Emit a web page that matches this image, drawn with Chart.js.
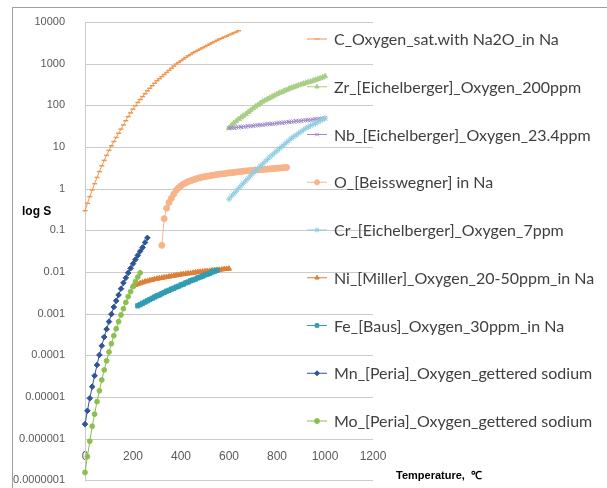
<!DOCTYPE html>
<html>
<head>
<meta charset="utf-8">
<script src="https://cdn.jsdelivr.net/npm/chart.js@4.4.1/dist/chart.umd.min.js"></script>
<style>
  html, body { margin: 0; padding: 0; background: #fff; overflow: hidden; }
  /* a bit taller than the window: the axis label padding eats ~11px at the bottom */
  #wrap { position: relative; width: 607px; height: 499px; }
</style>
</head>
<body>
<div id="wrap"><canvas id="solChart"></canvas></div>
<script>
// temperatures (°C) shared by all series, 10° steps as in the sheet
const temps = [0,10,20,30,40,50,60,70,80,90,100,110,120,130,140,150,160,170,180,190,
  200,210,220,230,240,250,260,270,280,290,300,310,320,330,340,350,360,370,380,390,
  400,410,420,430,440,450,460,470,480,490,500,510,520,530,540,550,560,570,580,590,
  600,610,620,630,640,650,660,670,680,690,700,710,720,730,740,750,760,770,780,790,
  800,810,820,830,840,850,860,870,880,890,900,910,920,930,940,950,960,970,980,990,1000];

const seriesNames = [
  'C_Oxygen_sat.with Na2O_in Na',
  'Zr_[Eichelberger]_Oxygen_200ppm',
  'Nb_[Eichelberger]_Oxygen_23.4ppm',
  'O_[Beisswegner] in Na',
  'Cr_[Eichelberger]_Oxygen_7ppm',
  'Ni_[Miller]_Oxygen_20-50ppm_in Na',
  'Fe_[Baus]_Oxygen_30ppm_in Na',
  'Mn_[Peria]_Oxygen_gettered sodium',
  'Mo_[Peria]_Oxygen_gettered sodium'
];

// first temperature of each series
const seriesStart = [0, 600, 600, 320, 600, 200, 220, 0, 0];

// log10(S)
const cLogS = [-0.53,-0.35,-0.19,-0.03,0.12,0.27,0.41,0.55,0.68,0.80,
  0.92,1.03,1.13,1.23,1.33,1.43,1.53,1.63,1.73,1.82,
  1.91,1.99,2.07,2.14,2.21,2.28,2.35,2.41,2.47,2.53,
  2.59,2.64,2.69,2.74,2.79,2.84,2.89,2.94,2.99,3.03,
  3.07,3.11,3.15,3.19,3.22,3.26,3.29,3.32,3.35,3.38,
  3.41,3.44,3.47,3.50,3.53,3.56,3.59,3.61,3.64,3.66,
  3.69,3.71,3.74,3.76,3.79];
const zrLogS = [1.46,1.52,1.57,1.62,1.67,1.71,1.75,1.79,1.84,1.88,
  1.93,1.97,2.01,2.05,2.09,2.12,2.15,2.18,2.21,2.24,
  2.27,2.30,2.32,2.35,2.37,2.40,2.42,2.44,2.46,2.48,
  2.50,2.52,2.54,2.555,2.57,2.59,2.61,2.63,2.65,2.67,2.70];
const nbLogS = [1.45,1.46,1.46,1.47,1.47,1.48,1.49,1.49,1.50,1.50,
  1.51,1.52,1.52,1.53,1.53,1.54,1.55,1.55,1.56,1.56,
  1.57,1.58,1.58,1.59,1.59,1.60,1.61,1.61,1.62,1.62,
  1.63,1.64,1.64,1.65,1.65,1.66,1.67,1.67,1.68,1.68,1.69];
const oLogS = [-1.36,-0.72,-0.47,-0.33,-0.23,-0.13,-0.04,0.02,0.07,0.11,
  0.14,0.17,0.19,0.21,0.23,0.25,0.265,0.28,0.29,0.30,
  0.31,0.32,0.33,0.34,0.35,0.355,0.36,0.37,0.38,0.385,
  0.39,0.40,0.405,0.41,0.42,0.425,0.43,0.435,0.44,0.445,
  0.45,0.455,0.46,0.465,0.47,0.475,0.48,0.485,0.49,0.495,
  0.50,0.505,0.51];
const crLogS = [-0.25,-0.18,-0.12,-0.06,0.01,0.07,0.13,0.19,0.25,0.31,
  0.37,0.43,0.48,0.54,0.59,0.65,0.70,0.76,0.81,0.86,
  0.91,0.96,1.01,1.06,1.11,1.16,1.21,1.25,1.29,1.33,
  1.37,1.41,1.45,1.48,1.51,1.54,1.57,1.60,1.63,1.66,1.69];
const niLogS = [-2.34,-2.31,-2.29,-2.27,-2.25,-2.23,-2.22,-2.20,-2.19,-2.17,
  -2.16,-2.15,-2.14,-2.13,-2.12,-2.11,-2.10,-2.09,-2.08,-2.07,
  -2.06,-2.05,-2.04,-2.035,-2.03,-2.02,-2.01,-2.00,-1.995,-1.99,
  -1.98,-1.975,-1.97,-1.96,-1.955,-1.95,-1.945,-1.94,-1.93,-1.925,-1.92];
const feLogS = [-2.81,-2.78,-2.75,-2.72,-2.69,-2.66,-2.63,-2.60,-2.57,-2.55,
  -2.52,-2.49,-2.46,-2.44,-2.41,-2.39,-2.36,-2.34,-2.31,-2.29,
  -2.26,-2.24,-2.21,-2.19,-2.17,-2.14,-2.12,-2.10,-2.07,-2.05,
  -2.03,-2.00,-1.98,-1.96];
const mnLogS = [-5.65,-5.33,-5.03,-4.75,-4.49,-4.23,-3.99,-3.77,-3.56,-3.37,
  -3.19,-3.01,-2.84,-2.69,-2.55,-2.40,-2.26,-2.14,-2.02,-1.91,
  -1.80,-1.70,-1.60,-1.50,-1.41,-1.29,-1.18];
const moLogS = [-6.81,-6.43,-6.06,-5.70,-5.41,-5.11,-4.85,-4.59,-4.35,-4.13,
  -3.92,-3.72,-3.53,-3.36,-3.19,-3.03,-2.88,-2.73,-2.59,-2.47,
  -2.35,-2.23,-2.12,-2.02];

const seriesLogS = [cLogS, zrLogS, nbLogS, oLogS, crLogS, niLogS, feLogS, mnLogS, moLogS];

const yTickValues = [1e-7,1e-6,1e-5,1e-4,1e-3,1e-2,1e-1,1,10,100,1000,10000];
const yTickLabels = ['0.0000001','0.000001','0.00001','0.0001','0.001','0.01','0.1','1','10','100','1000','10000'];
const xTickLabels = ['0','200','400','600','800','1000','1200'];

// styles
const colors = ['#F09650','#A9CF86','#9E8BC9','#F7B48A','#92CDE0','#DE7F38','#2F9DB3','#2F5597','#8CBF4F'];
const pointStyles = ['line','triangle','crossRot','circle','star','triangle','rect','rectRot','circle'];
const pointSizes = [2.5, 3, 3, 3, 3, 3, 3, 2.8, 2.4];

function toPoints(start, logs) {
  const i0 = temps.indexOf(start);
  return logs.map((v, i) => ({ x: temps[i0 + i], y: Math.pow(10, v) }));
}

const datasets = seriesNames.map((name, i) => ({
  label: name,
  data: toPoints(seriesStart[i], seriesLogS[i]),
  borderColor: colors[i],
  backgroundColor: colors[i],
  borderWidth: 1,
  pointStyle: pointStyles[i],
  pointRadius: pointSizes[i],
  pointBorderWidth: i === 0 ? 1.5 : 1,
  showLine: true,
  tension: 0,
  clip: false,
  order: -i
}));

const LEGEND_X = 307, LEGEND_Y = 39, LEGEND_STEP = 47.75;
const GRID = '#cbcbcb';

const decorPlugin = {
  id: 'decor',
  beforeDatasetsDraw(chart) {
    // horizontal grid + vertical axis line, Excel style, under the data
    const ctx = chart.ctx, area = chart.chartArea, ys = chart.scales.y;
    ctx.save();
    ctx.fillStyle = GRID;
    yTickValues.forEach(v => {
      const py = Math.round(ys.getPixelForValue(v));
      ctx.fillRect(area.left, py, area.right - area.left, 1);
    });
    ctx.fillRect(Math.round(area.left), area.top, 1, area.bottom - area.top + 1);
    ctx.restore();
  },
  afterDraw(chart) {
    const ctx = chart.ctx;
    ctx.save();
    // outer frame
    ctx.fillStyle = '#a0a0a0';
    ctx.fillRect(12, 7, 1, 492);
    ctx.fillRect(12, 7, 595, 1);

    // legend on the right, over the plot
    chart.data.datasets.forEach((ds, i) => {
      const y = LEGEND_Y + i * LEGEND_STEP;
      ctx.strokeStyle = ds.borderColor;
      ctx.fillStyle = ds.backgroundColor;
      ctx.lineWidth = 1;
      ctx.beginPath(); ctx.moveTo(LEGEND_X, y); ctx.lineTo(LEGEND_X + 20, y); ctx.stroke();
      if (Chart.helpers && Chart.helpers.drawPoint) {
        Chart.helpers.drawPoint(ctx, { pointStyle: ds.pointStyle, radius: 2.5, borderWidth: 1, rotation: 0 }, LEGEND_X + 10, y);
      }
      ctx.fillStyle = '#404040';
      ctx.font = '16px Lato, "Liberation Sans", sans-serif';
      ctx.textAlign = 'left';
      ctx.textBaseline = 'middle';
      ctx.fillText(ds.label, LEGEND_X + 27, y + 1);
    });

    // axis titles
    ctx.fillStyle = '#000';
    ctx.font = 'bold 12px "Liberation Sans Narrow", "Liberation Sans", sans-serif';
    ctx.textBaseline = 'middle';
    ctx.fillText('log S', 22, 212);
    ctx.font = 'bold 11px "Liberation Sans Narrow", "Liberation Sans", sans-serif';
    ctx.fillText('Temperature,  \u2103', 396, 476);
    ctx.restore();
  }
};

Chart.defaults.font.family = '"Liberation Sans", Arial, sans-serif';

new Chart(document.getElementById('solChart'), {
  type: 'scatter',
  data: { datasets },
  options: {
    responsive: true,
    maintainAspectRatio: false,
    animation: false,
    layout: { padding: { top: 22, right: 234, bottom: 8, left: 0 } },
    plugins: { legend: { display: false }, tooltip: { enabled: false } },
    scales: {
      x: {
        type: 'linear',
        position: { y: 1e-6 },
        min: 0,
        max: 1200,
        afterBuildTicks: (scale) => { scale.ticks = xTickLabels.map(t => ({ value: Number(t) })); },
        ticks: {
          callback: (v, i) => xTickLabels[i],
          color: '#595959',
          font: { size: 12 },
          padding: 3,
          maxRotation: 0,
          autoSkip: false
        },
        grid: { display: false },
        border: { display: false }
      },
      y: {
        type: 'logarithmic',
        min: 1e-7,
        max: 1e4,
        afterBuildTicks: (scale) => { scale.ticks = yTickValues.map(v => ({ value: v })); },
        afterFit: (scale) => { scale.width = 85; },
        ticks: {
          callback: (v, i) => yTickLabels[i],
          color: '#595959',
          font: { size: 11 },
          padding: 12,
          autoSkip: false
        },
        grid: { display: false },
        border: { display: false }
      }
    }
  },
  plugins: [decorPlugin]
});
</script>
</body>
</html>
